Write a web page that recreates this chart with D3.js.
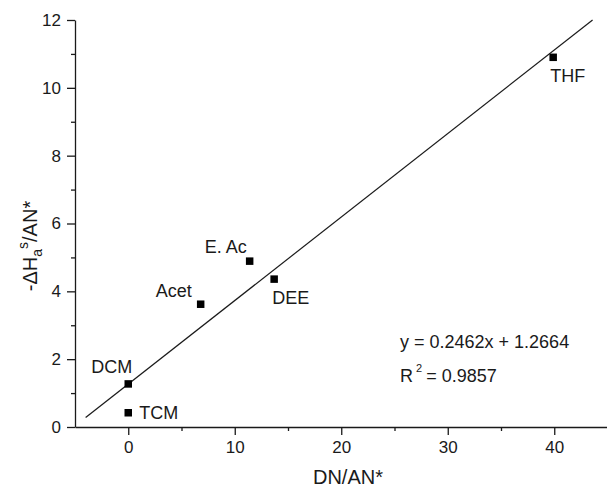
<!DOCTYPE html>
<head>
    <meta charset="utf-8">
    <title>DN/AN* vs enthalpy</title>
    <script src="https://cdn.jsdelivr.net/npm/d3@7/dist/d3.min.js"></script>
</head>

<body style="margin:0; background:#fff">
<svg id="chart" width="607" height="487"></svg>

<script type="text/javascript">
    /// data
    const solvents = ["DCM", "TCM", "Acet", "E. Ac", "DEE", "THF"];
    const dnAn = [0, 0, 6.8, 11.4, 13.7, 39.9];
    const dHa = [1.27, 0.42, 3.62, 4.89, 4.36, 10.9];

    /// linear fit shown on the chart
    const fitSlope = 0.2462;
    const fitIntercept = 1.2664;
    const fitRange = [-4, 43.6];
    const fitEquation = "y = 0.2462x + 1.2664";
    const fitR2 = "0.9857";

    const xMajorTicks = [0, 10, 20, 30, 40];
    const xMinorTicks = [5, 15, 25, 35];
    const yMajorTicks = [0, 2, 4, 6, 8, 10, 12];
    const yMinorTicks = [1, 3, 5, 7, 9, 11];

    /// where each label sits relative to its point (px)
    const labelOffset = {
        "DCM": [-37, -11],
        "TCM": [11, 6],
        "Acet": [-45, -7],
        "E. Ac": [-45, -8],
        "DEE": [-2, 25],
        "THF": [-3, 25]
    };

    const font = "'Liberation Sans', Arial, sans-serif";
    const ink = "#1a1a1a";

    const svg = d3.select("#chart");

    const x = d3.scaleLinear().domain([-5, 45]).range([75, 607.5]);
    const y = d3.scaleLinear().domain([0, 12]).range([427, 20]);

    /// x axis
    svg.append("g")
        .attr("transform", `translate(0, ${y(0)})`)
        .call(d3.axisBottom(x).tickValues(xMajorTicks).tickSize(8).tickSizeOuter(0).tickPadding(6));
    svg.append("g")
        .attr("transform", `translate(0, ${y(0)})`)
        .call(d3.axisBottom(x).tickValues(xMinorTicks).tickSize(4).tickFormat(""))
        .select(".domain").remove();

    /// y axis
    svg.append("g")
        .attr("transform", `translate(${x(-5)}, 0)`)
        .call(d3.axisLeft(y).tickValues(yMajorTicks).tickSize(8).tickSizeOuter(0).tickPadding(6));
    svg.append("g")
        .attr("transform", `translate(${x(-5)}, 0)`)
        .call(d3.axisLeft(y).tickValues(yMinorTicks).tickSize(4).tickFormat(""))
        .select(".domain").remove();

    svg.selectAll(".domain, .tick line")
        .attr("stroke", ink)
        .attr("stroke-width", 1.3);
    svg.selectAll(".tick text")
        .attr("fill", ink)
        .style("font-family", font)
        .style("font-size", "17px");

    /// fit line
    svg.append("path")
        .datum(fitRange)
        .attr("fill", "none")
        .attr("stroke", ink)
        .attr("stroke-width", 1.2)
        .attr("d", d3.line()
            .x(d => x(d))
            .y(d => y(fitSlope * d + fitIntercept)));

    /// points
    const pts = d3.range(solvents.length);
    const sz = 7.5;
    svg.append("g").selectAll("rect")
        .data(pts)
        .join("rect")
        .attr("x", i => x(dnAn[i]) - sz / 2)
        .attr("y", i => y(dHa[i]) - sz / 2)
        .attr("width", sz)
        .attr("height", sz)
        .attr("fill", "#000");

    svg.append("g").selectAll("text")
        .data(pts)
        .join("text")
        .attr("x", i => x(dnAn[i]) + labelOffset[solvents[i]][0])
        .attr("y", i => y(dHa[i]) + labelOffset[solvents[i]][1])
        .attr("fill", ink)
        .style("font-family", font)
        .style("font-size", "18px")
        .text(i => solvents[i]);

    /// equation
    svg.append("text")
        .attr("x", 400)
        .attr("y", 348)
        .attr("fill", ink)
        .style("font-family", font)
        .style("font-size", "18px")
        .text(fitEquation);

    const r2 = svg.append("text")
        .attr("x", 400)
        .attr("y", 382)
        .attr("fill", ink)
        .style("font-family", font)
        .style("font-size", "18px");
    r2.append("tspan").text("R");
    r2.append("tspan").attr("dx", 3).attr("dy", -10).style("font-size", "11px").text("2");
    r2.append("tspan").attr("dx", 4).attr("dy", 10).text("= " + fitR2);

    /// axis titles
    svg.append("text")
        .attr("x", 348)
        .attr("y", 484)
        .attr("text-anchor", "middle")
        .attr("fill", ink)
        .style("font-family", font)
        .style("font-size", "20px")
        .text("DN/AN*");

    const yTitle = svg.append("text")
        .attr("transform", "translate(37, 246) rotate(-90)")
        .attr("text-anchor", "middle")
        .attr("fill", ink)
        .style("font-family", font)
        .style("font-size", "20px");
    yTitle.append("tspan").text("-ΔH");
    yTitle.append("tspan").attr("dy", 5).style("font-size", "14px").text("a");
    yTitle.append("tspan").attr("dy", -14).style("font-size", "14px").text("s");
    yTitle.append("tspan").attr("dy", 9).text("/AN*");
</script>
</body>
